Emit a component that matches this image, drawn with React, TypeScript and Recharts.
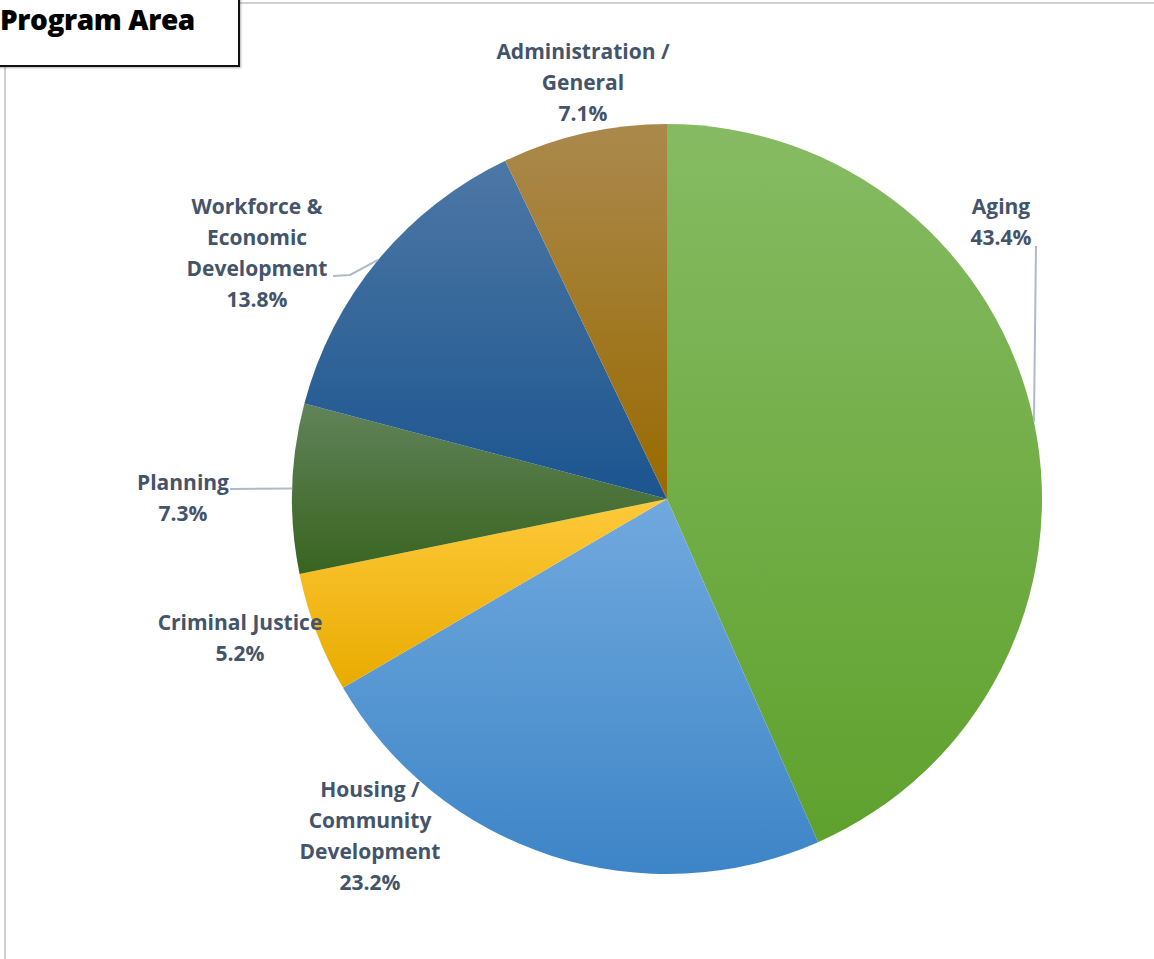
import React from "react";
import { PieChart, Pie, Cell } from "recharts";

// slices go clockwise from 12 o'clock, same order as the source chart
const categories = [
  "Aging",
  "Housing / Community Development",
  "Criminal Justice",
  "Planning",
  "Workforce & Economic Development",
  "Administration / General",
];
const shares = [43.4, 23.2, 5.2, 7.3, 13.8, 7.1];
const labelLines = [
  ["Aging"],
  ["Housing /", "Community", "Development"],
  ["Criminal Justice"],
  ["Planning"],
  ["Workforce &", "Economic", "Development"],
  ["Administration /", "General"],
];

// light top -> dark bottom, like the office-style fill
const gradients = [
  ["#86bb63", "#5fa12d"],
  ["#71a9de", "#3d85c7"],
  ["#ffc93a", "#e8ab00"],
  ["#61835a", "#39641f"],
  ["#4d77a5", "#1b558f"],
  ["#aa894d", "#996a00"],
];

// where Excel parked each label, relative to the pie centre
const labelSpots = [
  { dx: 334, dy: -293, leader: { x: 369, y: -253 } },
  { dx: -297, dy: 290, leader: null },
  { dx: -427, dy: 123, leader: null },
  { dx: -484, dy: -17, leader: { x: -437, y: -10 } },
  { dx: -410, dy: -293, leader: { x: -334, y: -223 } },
  { dx: -84, dy: -448, leader: null },
];

const W = 1154;
const H = 959;
const CX = 667;
const CY = 499;
const R = 375;
const LINE_H = 31;
const RAD = Math.PI / 180;
const TEXT = "#44546a";
const FONT = "'Open Sans', 'Noto Sans', sans-serif";

const data = categories.map((name, i) => ({ name, value: shares[i] }));

function SliceLabel(props: any) {
  const { cx, cy, midAngle, outerRadius, index } = props;
  const spot = labelSpots[index];
  const lines = [...labelLines[index], `${shares[index].toFixed(1)}%`];
  const x = cx + spot.dx;
  const y0 = cy + spot.dy;
  let leader = null;
  if (spot.leader) {
    const ex = cx + outerRadius * Math.cos(-midAngle * RAD);
    const ey = cy + outerRadius * Math.sin(-midAngle * RAD);
    const sx = cx + spot.leader.x;
    const sy = cy + spot.leader.y;
    // workforce label gets a short horizontal stub first
    const pts =
      index === 4
        ? `${sx},${sy} ${sx + 17},${sy - 1} ${ex},${ey}`
        : `${sx},${sy} ${ex},${ey}`;
    leader = <polyline points={pts} fill="none" stroke="#aebacb" strokeWidth={2} />;
  }
  return (
    <g>
      {leader}
      {lines.map((t, k) => (
        <text
          key={k}
          x={x}
          y={y0 + k * LINE_H}
          textAnchor="middle"
          dominantBaseline="central"
          fill={TEXT}
          fontFamily={FONT}
          fontWeight={700}
          fontSize={21}
        >
          {t}
        </text>
      ))}
    </g>
  );
}

export default function App() {
  return (
    <div
      style={{
        position: "fixed",
        left: 0,
        top: 0,
        width: W,
        height: H,
        background: "#fff",
        overflow: "hidden",
      }}
    >
      {/* outer frame */}
      <div
        style={{
          position: "absolute",
          left: 4,
          top: 2,
          width: W,
          height: H + 20,
          border: "2px solid #d0d0d0",
          boxSizing: "border-box",
        }}
      />
      <PieChart
        width={W}
        height={H}
        margin={{ top: 0, right: 0, bottom: 0, left: 0 }}
        style={{ position: "absolute", left: 0, top: 0 }}
      >
        <defs>
          {gradients.map((g, i) => (
            <linearGradient key={i} id={`slice-${i}`} x1="0" y1="0" x2="0" y2="1">
              <stop offset="0%" stopColor={g[0]} />
              <stop offset="100%" stopColor={g[1]} />
            </linearGradient>
          ))}
        </defs>
        <Pie
          data={data}
          dataKey="value"
          nameKey="name"
          cx={CX}
          cy={CY}
          outerRadius={R}
          startAngle={90}
          endAngle={-270}
          stroke="none"
          label={SliceLabel}
          labelLine={false}
          isAnimationActive={false}
        >
          {data.map((d, i) => (
            <Cell key={d.name} fill={`url(#slice-${i})`} />
          ))}
        </Pie>
      </PieChart>
      {/* title tab */}
      <div
        style={{
          position: "absolute",
          left: -4,
          top: -4,
          width: 244,
          height: 71,
          border: "2px solid #111",
          boxSizing: "border-box",
          background: "#fff",
          boxShadow: "1px 1px 2px rgba(0,0,0,0.3)",
        }}
      >
        <div
          style={{
            position: "absolute",
            left: 2,
            top: 2,
            fontFamily: "'Open Sans', Inter, sans-serif",
            fontWeight: 800,
            fontSize: 28,
            letterSpacing: -0.4,
            color: "#000",
            whiteSpace: "nowrap",
          }}
        >
          Program Area
        </div>
      </div>
    </div>
  );
}
